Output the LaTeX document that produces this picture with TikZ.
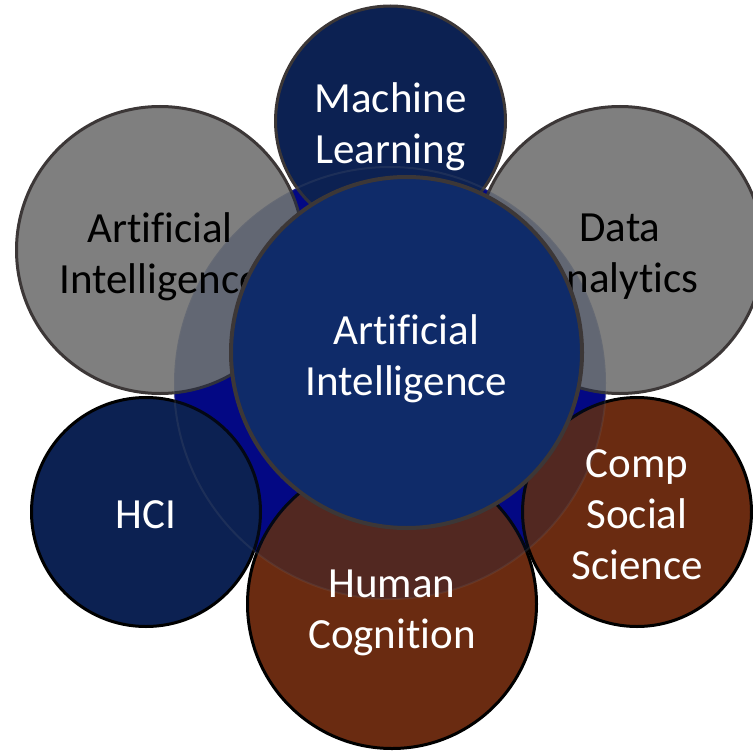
\documentclass[tikz,border=0pt]{standalone}
\usepackage{fontspec}
\setmainfont[Ligatures={NoCommon,NoContextual}, RawFeature={-liga;-clig;-dlig}]{Carlito}
\usepackage{tikz}

\definecolor{navyfill}{HTML}{0C2152}
\definecolor{corefill}{HTML}{0F2B69}
\definecolor{greyfill}{HTML}{7F7F7F}
\definecolor{brownfill}{HTML}{6A2B11}
\definecolor{pondblue}{HTML}{000096}
\definecolor{rimgrey}{HTML}{3C3737}

\begin{document}
\begin{tikzpicture}[x=1pt, y=-1pt,
    disc/.style={circle, inner sep=0pt, outer sep=0pt, line width=3pt},
    lbl/.style={align=center, inner sep=0pt, font=\fontsize{43}{51}\selectfont}]
  \useasboundingbox (0, 0) rectangle (752, 754);

  % fond bleu
  \node[disc, fill=pondblue, draw=none, minimum size=432] (pond) at (390, 383) {};

  % cercles autour
  \node[disc, fill=navyfill, draw=rimgrey, minimum size=230] (ml) at (390.5, 121) {};
  \node[disc, fill=greyfill, draw=rimgrey, minimum size=287] (ail) at (160, 250) {};
  \node[disc, fill=greyfill, draw=rimgrey, minimum size=287] (da) at (620, 250) {};
  \node[disc, fill=navyfill, draw=black, minimum size=229] (hci) at (146, 512) {};
  \node[disc, fill=brownfill, draw=black, minimum size=289] (hc) at (392, 604) {};
  \node[disc, fill=brownfill, draw=black, minimum size=229] (css) at (637, 512) {};

  % voile
  \node[disc, fill=navyfill, fill opacity=0.25, draw=gray, draw opacity=0.15,
        line width=2pt, minimum size=432] (halo) at (pond) {};

  % textes
  \node[lbl, text=white] (mltxt) at ([yshift=-6pt]ml.center) {Machine\\Learning};
  \node[lbl, text=black] (ailtxt) at ([yshift=-7pt]ail.center) {Artificial\\Intelligence};
  \node[lbl, text=black] (datxt) at ([yshift=-7pt]da.center) {Data\\Analytics};
  \node[lbl, text=white] (hcitxt) at ([yshift=-3pt]hci.center) {HCI};
  \node[lbl, text=white] (hctxt) at ([yshift=-9pt]hc.center) {Human\\Cognition};
  \node[lbl, text=white] (csstxt) at ([yshift=-3pt]css.center) {Comp\\Social\\Science};

  % centre
  \node[disc, fill=corefill, draw=rimgrey, line width=4pt, minimum size=351]
        (core) at (406.5, 352.5) {};
  \node[lbl, text=white] (coretxt) at ([yshift=-6pt]core.center) {Artificial\\Intelligence};
\end{tikzpicture}
\end{document}
